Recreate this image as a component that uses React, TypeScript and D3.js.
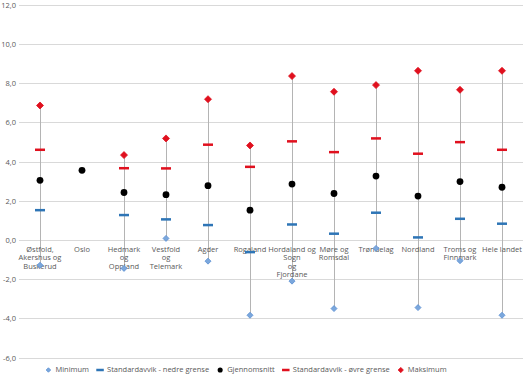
import React from "react";
import * as d3 from "d3";

const categories: string[][] = [
  ["Østfold,", "Akershus og", "Buskerud"],
  ["Oslo"],
  ["Hedmark", "og", "Oppland"],
  ["Vestfold", "og", "Telemark"],
  ["Agder"],
  ["Rogaland"],
  ["Hordaland og", "Sogn", "og", "Fjordane"],
  ["Møre og", "Romsdal"],
  ["Trøndelag"],
  ["Nordland"],
  ["Troms og", "Finnmark"],
  ["Hele landet"],
];

const minimum: (number | null)[] = [-1.29, null, -1.45, 0.08, -1.08, -3.84, -2.1, -3.5, -0.43, -3.45, -1.06, -3.84];
const sdLower: (number | null)[] = [1.52, null, 1.27, 1.05, 0.76, -0.62, 0.79, 0.32, 1.39, 0.13, 1.08, 0.83];
const mean: (number | null)[] = [3.04, 3.55, 2.42, 2.31, 2.77, 1.52, 2.85, 2.37, 3.26, 2.24, 2.98, 2.69];
const sdUpper: (number | null)[] = [4.6, null, 3.66, 3.65, 4.86, 3.73, 5.03, 4.48, 5.18, 4.4, 4.99, 4.6];
const maximum: (number | null)[] = [6.86, null, 4.33, 5.18, 7.18, 4.82, 8.36, 7.56, 7.9, 8.63, 7.66, 8.63];

const yTicks: number[] = [-6, -4, -2, 0, 2, 4, 6, 8, 10, 12];

const legendLabels: string[] = [
  "Minimum",
  "Standardavvik - nedre grense",
  "Gjennomsnitt",
  "Standardavvik - øvre grense",
  "Maksimum",
];

const W = 525;
const H = 380;
const FONT = "'Open Sans', 'DejaVu Sans', sans-serif";
const FS = 7.5;
const TEXT_COLOR = "#595959";
const RED = "#e0101e";
const BLUE = "#2e75b6";
const MIN_FILL = "#7ba7dc";
const MIN_STROKE = "#5b8fd3";

function measure(text: string): number {
  if (typeof document === "undefined") return text.length * 4;
  const c = document.createElement("canvas").getContext("2d");
  if (!c) return text.length * 4;
  c.font = `${FS}px 'Open Sans'`;
  return c.measureText(text).width;
}

const diamond = (cx: number, cy: number, r: number) =>
  `M${cx},${cy - r}L${cx + r},${cy}L${cx},${cy + r}L${cx - r},${cy}Z`;

export default function App() {
  const keys = categories.map((_, i) => String(i));
  const x = d3.scaleBand<string>().domain(keys).range([19, 523]).padding(0);
  const y = d3.scaleLinear().domain([-6, 12]).range([357.6, 4.7]);
  const cx = (i: number) => (x(String(i)) as number) + x.bandwidth() / 2;
  const fmt = (v: number) => d3.format(".1f")(v).replace(".", ",").replace("−", "-");

  // legend layout
  const markerW = 6;
  const gapMT = 4;
  const gapItem = 8;
  const widths = legendLabels.map((l) => measure(l));
  const total = widths.reduce((a, w) => a + markerW + gapMT + w, 0) + gapItem * (legendLabels.length - 1);
  let lx = 246 - total / 2;
  const legendItems = legendLabels.map((l, i) => {
    const item = { label: l, mx: lx + markerW / 2, tx: lx + markerW + gapMT, i };
    lx += markerW + gapMT + widths[i] + gapItem;
    return item;
  });
  const ly = 370;

  const drawMarker = (kind: number, px: number, py: number, legend = false) => {
    const s = legend ? 0.75 : 1;
    switch (kind) {
      case 0:
        return <path d={diamond(px, py, 3 * s)} fill={MIN_FILL} stroke={MIN_STROKE} strokeWidth={0.8} />;
      case 1:
        return <rect x={px - 5 * s} y={py - 1.25} width={10 * s} height={2.5} fill={BLUE} />;
      case 2:
        return <circle cx={px} cy={py} r={3.4 * s} fill="#000" />;
      case 3:
        return <rect x={px - 5 * s} y={py - 1.25} width={10 * s} height={2.5} fill={RED} />;
      default:
        return <path d={diamond(px, py, 3.5 * s)} fill={RED} stroke={RED} strokeWidth={0.8} strokeLinejoin="round" />;
    }
  };

  const series = [minimum, sdLower, mean, sdUpper, maximum];

  return (
    <svg
      width={W}
      height={H}
      style={{ position: "absolute", left: 0, top: 0, background: "#fff" }}
      fontFamily={FONT}
    >
      {/* gridlines */}
      {yTicks.map((t) => (
        <line key={t} x1={19} x2={523} y1={Math.round(y(t)) + 0.5} y2={Math.round(y(t)) + 0.5} stroke="#d9d9d9" strokeWidth={1} />
      ))}
      {/* y labels */}
      {yTicks.map((t) => (
        <text key={t} x={16} y={y(t) + 1} textAnchor="end" dominantBaseline="middle" fontSize={FS} fill={TEXT_COLOR}>
          {fmt(t)}
        </text>
      ))}
      {/* high-low lines */}
      {categories.map((_, i) => {
        const lo = minimum[i];
        const hi = maximum[i];
        if (lo == null || hi == null) return null;
        return <line key={i} x1={Math.round(cx(i)) + 0.5} x2={Math.round(cx(i)) + 0.5} y1={y(lo)} y2={y(hi)} stroke="#b4b4b4" strokeWidth={1} />;
      })}
      {/* x labels */}
      {categories.map((lines, i) => (
        <text key={i} x={cx(i)} y={251.5} textAnchor="middle" fontSize={FS} fill={TEXT_COLOR}>
          {lines.map((l, j) => (
            <tspan key={j} x={cx(i)} dy={j === 0 ? 0 : 8.5}>
              {l}
            </tspan>
          ))}
        </text>
      ))}
      {/* markers */}
      {series.map((s, k) => (
        <g key={k}>
          {s.map((v, i) => (v == null ? null : <g key={i}>{drawMarker(k, cx(i), y(v))}</g>))}
        </g>
      ))}
      {/* legend */}
      {legendItems.map((it) => (
        <g key={it.i}>
          {drawMarker(it.i, it.mx, ly, true)}
          <text x={it.tx} y={ly} dominantBaseline="middle" fontSize={FS} fill={TEXT_COLOR}>
            {it.label}
          </text>
        </g>
      ))}
    </svg>
  );
}
